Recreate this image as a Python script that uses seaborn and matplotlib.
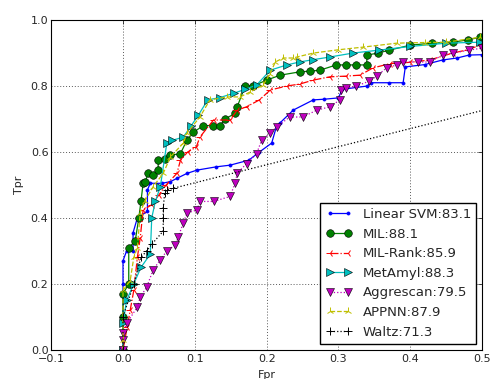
import numpy as np
import pandas as pd
import seaborn as sns
import matplotlib
matplotlib.use("Agg")
import matplotlib.pyplot as plt

# ---- data ----
svm_fpr = [0, 0, 0, 0.005, 0.014, 0.014, 0.02, 0.034, 0.034, 0.038, 0.054, 0.066, 0.075, 0.089, 0.103, 0.13, 0.149,
           0.175, 0.19, 0.207, 0.214, 0.218, 0.237, 0.265, 0.28, 0.30, 0.305, 0.34, 0.345, 0.37, 0.39, 0.393, 0.42,
           0.445, 0.465, 0.482, 0.50]
svm_tpr = [0, 0.20, 0.27, 0.30, 0.30, 0.355, 0.40, 0.42, 0.485, 0.505, 0.505, 0.51, 0.52, 0.535, 0.545, 0.555, 0.56,
           0.575, 0.60, 0.627, 0.68, 0.687, 0.727, 0.758, 0.76, 0.764, 0.79, 0.80, 0.81, 0.81, 0.81, 0.858, 0.865,
           0.879, 0.885, 0.894, 0.895]

mil_fpr = [0, 0, 0, 0.008, 0.008, 0.017, 0.022, 0.025, 0.028, 0.031, 0.035, 0.042, 0.049, 0.049, 0.058, 0.066, 0.08,
           0.089, 0.098, 0.112, 0.125, 0.135, 0.142, 0.156, 0.159, 0.17, 0.181, 0.2, 0.219, 0.246, 0.26, 0.274, 0.297,
           0.31, 0.325, 0.339, 0.34, 0.355, 0.371, 0.40, 0.43, 0.459, 0.48, 0.497]
mil_tpr = [0, 0.10, 0.17, 0.20, 0.31, 0.33, 0.40, 0.45, 0.505, 0.51, 0.535, 0.53, 0.545, 0.575, 0.58, 0.59, 0.595,
           0.636, 0.66, 0.68, 0.68, 0.68, 0.70, 0.717, 0.737, 0.80, 0.80, 0.818, 0.833, 0.843, 0.845, 0.848, 0.864,
           0.864, 0.864, 0.864, 0.894, 0.90, 0.909, 0.924, 0.93, 0.933, 0.94, 0.948]

rank_fpr = [0, 0.006, 0.01, 0.015, 0.02, 0.024, 0.028, 0.04, 0.05, 0.06, 0.075, 0.08, 0.09, 0.102, 0.107, 0.126, 0.149,
            0.159, 0.172, 0.19, 0.205, 0.228, 0.246, 0.265, 0.288, 0.31, 0.33, 0.348, 0.372, 0.40, 0.427, 0.459,
            0.48, 0.497]
rank_tpr = [0, 0.07, 0.12, 0.18, 0.28, 0.34, 0.424, 0.44, 0.47, 0.50, 0.535, 0.575, 0.60, 0.615, 0.645, 0.697, 0.697,
            0.727, 0.737, 0.758, 0.788, 0.80, 0.806, 0.818, 0.828, 0.83, 0.833, 0.855, 0.868, 0.872, 0.879, 0.90,
            0.91, 0.924]

met_fpr = [0, 0, 0.005, 0.015, 0.025, 0.038, 0.04, 0.045, 0.052, 0.061, 0.068, 0.084, 0.095, 0.105, 0.118, 0.135,
           0.154, 0.17, 0.186, 0.205, 0.228, 0.246, 0.265, 0.288, 0.32, 0.357, 0.40, 0.45, 0.497]
met_tpr = [0, 0.08, 0.15, 0.20, 0.25, 0.29, 0.40, 0.45, 0.495, 0.627, 0.635, 0.645, 0.68, 0.712, 0.758, 0.765,
           0.778, 0.79, 0.803, 0.848, 0.864, 0.873, 0.88, 0.888, 0.90, 0.909, 0.92, 0.93, 0.933]

agg_fpr = [0, 0, 0, 0.005, 0.02, 0.024, 0.033, 0.042, 0.052, 0.061, 0.073, 0.077, 0.084, 0.089, 0.103, 0.107, 0.126,
           0.149, 0.156, 0.159, 0.172, 0.186, 0.193, 0.205, 0.214, 0.232, 0.25, 0.27, 0.288, 0.302, 0.304, 0.311,
           0.325, 0.343, 0.353, 0.367, 0.381, 0.39, 0.41, 0.427, 0.445, 0.459, 0.482, 0.50]
agg_tpr = [0, 0.03, 0.05, 0.08, 0.13, 0.16, 0.19, 0.243, 0.273, 0.30, 0.318, 0.343, 0.385, 0.415, 0.424, 0.45, 0.45,
           0.465, 0.505, 0.535, 0.565, 0.595, 0.636, 0.657, 0.676, 0.706, 0.706, 0.727, 0.737, 0.758, 0.788, 0.794,
           0.80, 0.815, 0.83, 0.855, 0.864, 0.873, 0.873, 0.873, 0.894, 0.90, 0.909, 0.915]

appnn_fpr = [0, 0, 0.0, 0.01, 0.015, 0.02, 0.024, 0.03, 0.042, 0.056, 0.066, 0.084, 0.089, 0.107, 0.121, 0.145, 0.163,
             0.177, 0.195, 0.205, 0.212, 0.223, 0.237, 0.242, 0.265, 0.30, 0.334, 0.381, 0.42, 0.45, 0.497]
appnn_tpr = [0, 0.03, 0.18, 0.21, 0.28, 0.31, 0.415, 0.45, 0.495, 0.535, 0.585, 0.627, 0.657, 0.706, 0.758, 0.767,
             0.767, 0.782, 0.803, 0.838, 0.873, 0.885, 0.885, 0.888, 0.90, 0.91, 0.918, 0.93, 0.932, 0.933, 0.948]

waltz_fpr = [0, 0.0, 0.015, 0.025, 0.033, 0.04, 0.056, 0.056, 0.056, 0.058, 0.061, 0.07, 1.0]
waltz_tpr = [0, 0.10, 0.20, 0.28, 0.30, 0.32, 0.36, 0.40, 0.43, 0.475, 0.485, 0.49, 1.0]

labels = ["Linear SVM:83.1", "MIL:88.1", "MIL-Rank:85.9", "MetAmyl:88.3", "Aggrescan:79.5", "APPNN:87.9", "Waltz:71.3"]
xticks = [-0.1, 0.0, 0.1, 0.2, 0.3, 0.4, 0.5]
yticks = [0.0, 0.2, 0.4, 0.6, 0.8, 1.0]

series = [
    (svm_fpr, svm_tpr, dict(color="b", marker=".", linestyle="-", markersize=4.5, markeredgecolor="b", markeredgewidth=0.5)),
    (mil_fpr, mil_tpr, dict(color="g", marker="o", linestyle="-", markersize=5.5, markeredgecolor="k", markeredgewidth=0.4)),
    (rank_fpr, rank_tpr, dict(color="r", marker="3", linestyle="-.", markersize=6, markeredgecolor="r", markeredgewidth=0.7)),
    (met_fpr, met_tpr, dict(color="c", marker=">", linestyle="-", markersize=5.5, markeredgecolor="k", markeredgewidth=0.4)),
    (agg_fpr, agg_tpr, dict(color="m", marker="v", linestyle=":", markersize=5.5, markeredgecolor="k", markeredgewidth=0.4)),
    (appnn_fpr, appnn_tpr, dict(color="y", marker="2", linestyle="--", markersize=6, markeredgecolor="y", markeredgewidth=0.7)),
    (waltz_fpr, waltz_tpr, dict(color="k", marker="+", linestyle=":", markersize=6, markeredgecolor="k", markeredgewidth=0.7)),
]

sns.set_style("white", {
    "axes.edgecolor": "black",
    "axes.linewidth": 1.0,
    "xtick.direction": "in",
    "ytick.direction": "in",
})
plt.rcParams["font.family"] = ["DejaVu Sans"]

fig = plt.figure(figsize=(4.92, 3.79), dpi=100)
ax = fig.add_axes([0.104, 0.077, 0.876, 0.870])

for (fx, fy, style), lab in zip(series, labels):
    df = pd.DataFrame({"fpr": fx, "tpr": fy})
    sns.lineplot(data=df, x="fpr", y="tpr", ax=ax, sort=False, estimator=None,
                 label=lab, linewidth=0.9, **style)

ax.set_xlim(-0.1, 0.5)
ax.set_ylim(0.0, 1.0)
ax.set_xticks(xticks)
ax.set_yticks(yticks)
ax.set_xticklabels([f"{t:.1f}".replace("-", "\u2212") for t in xticks], fontsize=8)
ax.set_yticklabels([f"{t:.1f}" for t in yticks], fontsize=8)
ax.tick_params(top=True, right=True, direction="in", length=3, width=0.6, pad=2)
ax.tick_params(axis="x", pad=3)
ax.grid(True, linestyle=(0, (1, 2)), color="0.35", linewidth=0.7)
ax.set_axisbelow(True)
ax.set_xlabel("Fpr", fontsize=8, labelpad=4)
ax.set_ylabel("Tpr", fontsize=8, labelpad=5)

leg = ax.legend(loc="lower right", fontsize=9.5, numpoints=2, fancybox=False, framealpha=1.0,
                edgecolor="black", handlelength=2.0, borderpad=0.4, labelspacing=0.5,
                handletextpad=0.8, borderaxespad=0.45)
leg.get_frame().set_linewidth(1.0)

fig.savefig("out.png", dpi=100, facecolor="white")
